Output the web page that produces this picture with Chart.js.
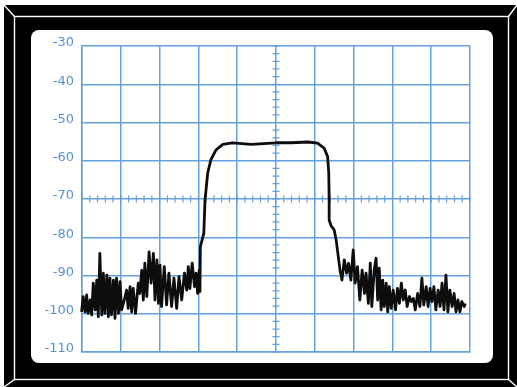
<!DOCTYPE html>
<html>
<head>
<meta charset="utf-8">
<script src="https://cdn.jsdelivr.net/npm/chart.js@4/dist/chart.umd.min.js"></script>
<style>
  html, body { margin: 0; padding: 0; background: #fff; }
  canvas { display: block; }
</style>
</head>
<body>
<canvas id="spectrum" width="517" height="387"></canvas>
<script>
// Horizontal position in screen divisions (centre = 0), and level in dB
const freqDiv = [
  -5.11, -5.05, -5.01, -4.97, -4.92, -4.88, -4.84, -4.79, -4.75, -4.71,
  -4.66, -4.62, -4.58, -4.54, -4.49, -4.45, -4.41, -4.36, -4.32, -4.28,
  -4.24, -4.19, -4.15, -4.11, -4.06, -4.02, -3.98, -3.91, -3.85, -3.81,
  -3.76, -3.72, -3.68, -3.62, -3.55, -3.51, -3.46, -3.42, -3.38, -3.33,
  -3.27, -3.22, -3.16, -3.12, -3.07, -3.03, -2.99, -2.95, -2.88, -2.82,
  -2.76, -2.69, -2.63, -2.56, -2.50, -2.43, -2.36, -2.30, -2.26, -2.22,
  -2.16, -2.10, -2.06, -2.02, -1.98, -1.96,
  -1.95, -1.86, -1.83, -1.76, -1.68, -1.55, -1.37, -1.12, -0.64, 0.00,
  0.39, 0.82, 1.07, 1.24, 1.33, 1.36, 1.37, 1.37, 1.42, 1.50, 1.55,
  1.65, 1.70, 1.76, 1.82, 1.87, 1.93, 1.99, 2.04, 2.10, 2.16,
  2.22, 2.28, 2.32, 2.38, 2.43, 2.47, 2.53, 2.58, 2.62, 2.66,
  2.71, 2.75, 2.79, 2.84, 2.88, 2.92, 2.97, 3.02, 3.08, 3.13,
  3.18, 3.23, 3.28, 3.33, 3.38, 3.44, 3.49, 3.54, 3.59, 3.65,
  3.71, 3.76, 3.81, 3.87, 3.92, 3.97, 4.02, 4.07, 4.12, 4.18,
  4.23, 4.28, 4.33, 4.38, 4.43, 4.48, 4.54, 4.59, 4.64, 4.69,
  4.74, 4.79, 4.85, 4.88
];
const levelDb = [
  -99.9, -96.4, -99.5, -95.5, -99.5, -95.1, -99.9, -96.4, -100.3, -92.0,
  -99.0, -91.2, -100.8, -84.2, -100.3, -89.4, -99.9, -89.9, -100.8, -90.7,
  -100.3, -91.2, -101.2, -90.7, -99.9, -91.6, -99.0, -96.4, -93.8, -98.6,
  -92.9, -99.5, -93.4, -99.9, -92.0, -94.7, -88.6, -96.4, -86.8, -95.5,
  -83.8, -92.0, -84.2, -96.4, -85.9, -97.3, -87.3, -98.1, -87.7, -97.7,
  -89.4, -98.1, -90.7, -98.6, -90.3, -96.4, -89.4, -93.8, -87.7, -93.4,
  -86.8, -92.9, -89.4, -94.7, -88.6, -94.2,
  -82.5, -78.9, -70.3, -63.2, -59.8, -57.2, -55.7, -55.3, -55.7, -55.3,
  -55.3, -55.1, -55.4, -56.7, -58.9, -63.2, -70.3, -75.5, -77.0, -78.1, -80.7,
  -88.6, -91.2, -85.9, -89.4, -86.8, -91.2, -83.3, -92.0, -87.7, -96.4,
  -88.6, -94.7, -89.4, -97.3, -86.8, -98.1, -88.6, -85.5, -96.4, -88.1,
  -99.0, -91.2, -98.1, -92.0, -99.5, -92.9, -98.6, -93.8, -99.0, -93.4,
  -97.3, -92.0, -96.4, -93.8, -98.1, -95.5, -96.8, -96.0, -99.0, -94.7,
  -98.1, -90.7, -97.7, -92.9, -98.1, -93.4, -96.8, -92.9, -99.0, -93.8,
  -98.1, -92.0, -99.0, -89.9, -99.5, -93.8, -98.1, -94.7, -99.5, -96.4,
  -99.5, -96.8, -98.1, -97.3
];
const levelTicks = [-30, -40, -50, -60, -70, -80, -90, -100, -110];

const GRID_BLUE = 'rgb(100,160,222)';
const LABEL_BLUE = 'rgb(84,146,212)';

// Picture frame: black bezel with a thin white inlay and a white rounded screen
const framePlugin = {
  id: 'frame',
  beforeDraw(chart) {
    const ctx = chart.ctx;
    const W = chart.width, H = chart.height;
    ctx.save();
    ctx.fillStyle = '#fff';
    ctx.fillRect(0, 0, W, H);
    ctx.fillStyle = '#000';
    ctx.fillRect(4, 5, W - 4, H - 5);
    ctx.strokeStyle = '#fff';
    ctx.lineWidth = 1.4;
    ctx.strokeRect(14.5, 16.5, 494, 363);
    ctx.beginPath();
    ctx.moveTo(4, 5); ctx.lineTo(14.5, 16.5);
    ctx.moveTo(W, 5); ctx.lineTo(508.5, 16.5);
    ctx.moveTo(4, H); ctx.lineTo(14.5, 379.5);
    ctx.moveTo(W, H); ctx.lineTo(508.5, 379.5);
    ctx.stroke();
    ctx.fillStyle = '#fff';
    ctx.beginPath();
    ctx.roundRect(31, 30, 462, 333, 8);
    ctx.fill();
    ctx.restore();
  }
};

// Minor graduations along the centre cross-hairs
const crossTicksPlugin = {
  id: 'crossTicks',
  beforeDatasetsDraw(chart) {
    const { ctx, scales: { x, y } } = chart;
    const cx = x.getPixelForValue(0);
    const cy = y.getPixelForValue(-70);
    ctx.save();
    ctx.strokeStyle = GRID_BLUE;
    ctx.lineWidth = 1.2;
    ctx.beginPath();
    for (let v = -110; v <= -30; v += 2) {
      const py = y.getPixelForValue(v);
      ctx.moveTo(cx - 3.5, py); ctx.lineTo(cx + 3.5, py);
    }
    for (let d = -50; d <= 50; d += 2) {
      const px = x.getPixelForValue(d / 10);
      ctx.moveTo(px, cy - 3.5); ctx.lineTo(px, cy + 3.5);
    }
    ctx.stroke();
    ctx.restore();
  }
};

new Chart(document.getElementById('spectrum'), {
  type: 'scatter',
  data: {
    datasets: [{
      data: freqDiv.map((f, i) => ({ x: f, y: levelDb[i] })),
      showLine: true,
      borderColor: '#0d0d0d',
      borderWidth: 2.8,
      borderJoinStyle: 'round',
      pointRadius: 0,
      tension: 0,
      clip: false
    }]
  },
  options: {
    responsive: false,
    animation: false,
    layout: { padding: { left: 32, right: 47, top: 46, bottom: 35 } },
    plugins: { legend: { display: false }, tooltip: { enabled: false } },
    scales: {
      x: {
        type: 'linear',
        min: -5, max: 5,
        ticks: { display: false, stepSize: 1 },
        grid: { color: GRID_BLUE, lineWidth: 1.5, drawTicks: false },
        border: { color: GRID_BLUE, width: 1.5 },
        afterFit(scale) { scale.height = 0; }
      },
      y: {
        min: -110, max: -30,
        afterBuildTicks(scale) { scale.ticks = levelTicks.map(v => ({ value: v })); },
        ticks: {
          color: LABEL_BLUE,
          font: { family: 'DejaVu Sans', size: 13 },
          padding: 8,
          labelOffset: -3,
          callback: v => String(v)
        },
        grid: { color: GRID_BLUE, lineWidth: 1.5, drawTicks: false },
        border: { color: GRID_BLUE, width: 1.5 },
        afterFit(scale) { scale.width = 50; }
      }
    }
  },
  plugins: [framePlugin, crossTicksPlugin]
});
</script>
</body>
</html>
